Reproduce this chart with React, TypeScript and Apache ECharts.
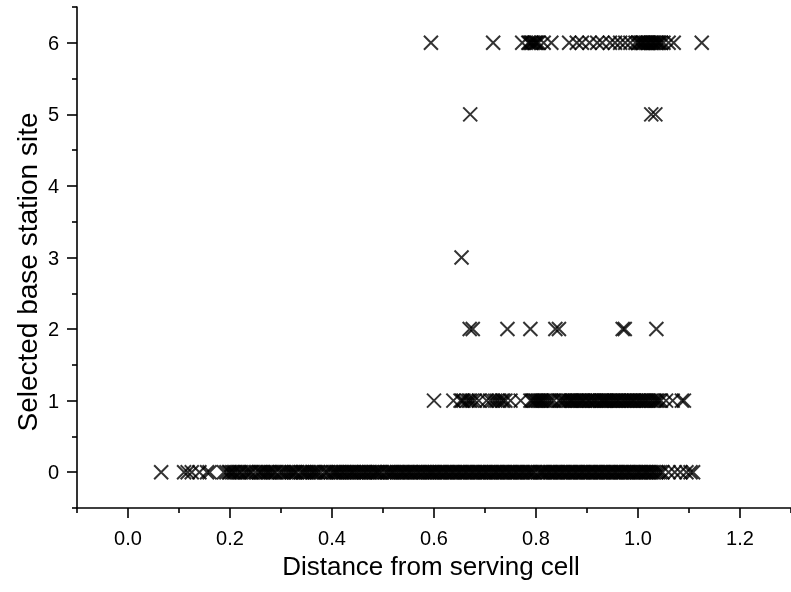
import React, { useEffect, useRef } from "react";
import * as echarts from "echarts";

// Distance from serving cell, grouped by selected base station site
const site0: number[] = [
  0.065, 0.11, 0.117, 0.125, 0.14, 0.155, 0.16, 0.188, 0.193, 0.198, 0.204, 0.21, 0.215, 0.222, 0.228,
  0.236, 0.243, 0.25, 0.256, 0.262, 0.27, 0.276, 0.283, 0.29, 0.297, 0.305, 0.31, 0.318, 0.325, 0.331,
  0.338, 0.345, 0.352, 0.36, 0.366, 0.373, 0.385, 0.392, 0.398, 0.405, 0.411, 0.418, 0.424, 0.431,
  0.438, 0.444, 0.451, 0.458, 0.465, 0.472, 0.478, 0.485, 0.49, 0.497, 0.503, 0.51, 0.517, 0.523, 0.53,
  0.537, 0.543, 0.55, 0.556, 0.563, 0.57, 0.577, 0.583, 0.59, 0.596, 0.602, 0.609, 0.615, 0.622, 0.628,
  0.635, 0.641, 0.648, 0.654, 0.661, 0.667, 0.674, 0.68, 0.687, 0.693, 0.7, 0.706, 0.713, 0.72, 0.726,
  0.733, 0.739, 0.746, 0.752, 0.759, 0.765, 0.772, 0.778, 0.785, 0.791, 0.798, 0.804, 0.811, 0.817,
  0.824, 0.83, 0.837, 0.843, 0.85, 0.856, 0.863, 0.869, 0.876, 0.882, 0.889, 0.895, 0.902, 0.908, 0.915,
  0.921, 0.928, 0.934, 0.941, 0.947, 0.954, 0.96, 0.967, 0.973, 0.98, 0.986, 0.993, 1.0, 1.006, 1.013,
  1.019, 1.026, 1.032, 1.04, 1.048, 1.06, 1.072, 1.083, 1.095, 1.103, 1.108,
  0.2, 0.207, 0.219, 0.232, 0.24, 0.259, 0.266, 0.273, 0.279, 0.287, 0.301, 0.314, 0.321, 0.328, 0.342,
  0.349, 0.356, 0.363, 0.37, 0.378, 0.389, 0.402, 0.408, 0.414, 0.421, 0.428, 0.435, 0.441, 0.448, 0.455,
  0.462, 0.468, 0.475, 0.482, 0.488, 0.494, 0.507, 0.514, 0.52, 0.527, 0.534, 0.54, 0.547, 0.553, 0.56,
  0.567, 0.573, 0.58, 0.587, 0.593, 0.599, 0.606, 0.612, 0.619, 0.625, 0.632, 0.638, 0.645, 0.651, 0.658,
  0.664, 0.671, 0.677, 0.684, 0.69, 0.697, 0.703, 0.71, 0.717, 0.723, 0.73, 0.736, 0.743, 0.749, 0.756,
  0.762, 0.769, 0.775, 0.782, 0.788, 0.795, 0.808, 0.814, 0.821, 0.827, 0.834, 0.84, 0.847, 0.853, 0.86,
  0.866, 0.873, 0.879, 0.886, 0.892, 0.899, 0.905, 0.912, 0.918, 0.925, 0.931, 0.938, 0.944, 0.951,
  0.957, 0.964, 0.97, 0.977, 0.983, 0.99, 0.997, 1.003, 1.01, 1.016, 1.022, 1.029, 1.036, 1.044,
];
const site1: number[] = [
  0.6, 0.638, 0.652, 0.658, 0.664, 0.668, 0.675, 0.68, 0.688, 0.703, 0.715, 0.72, 0.724, 0.728, 0.733,
  0.74, 0.75, 0.77, 0.789, 0.795, 0.8, 0.805, 0.81, 0.815, 0.822, 0.835, 0.845, 0.852, 0.858, 0.865, 0.87,
  0.876, 0.882, 0.888, 0.893, 0.9, 0.905, 0.912, 0.918, 0.925, 0.93, 0.935, 0.94, 0.946, 0.952, 0.958,
  0.963, 0.97, 0.976, 0.982, 0.988, 0.993, 1.0, 1.006, 1.012, 1.018, 1.025, 1.032, 1.038, 1.045, 1.055,
  1.068, 1.086, 1.09,
  0.655, 0.671, 0.71, 0.736, 0.792, 0.798, 0.803, 0.808, 0.812, 0.818, 0.826, 0.83, 0.848, 0.855, 0.862,
  0.868, 0.873, 0.879, 0.885, 0.891, 0.896, 0.903, 0.909, 0.915, 0.921, 0.928, 0.933, 0.938, 0.943,
  0.949, 0.955, 0.961, 0.967, 0.973, 0.979, 0.985, 0.991, 0.997, 1.003, 1.009, 1.015, 1.021, 1.028,
  1.035, 1.041,
];
const site2: number[] = [0.67, 0.676, 0.744, 0.789, 0.838, 0.845, 0.97, 0.974, 1.036];
const site3: number[] = [0.654];
const site5: number[] = [0.671, 1.026, 1.034];
const site6: number[] = [
  0.594, 0.716, 0.773, 0.785, 0.79, 0.795, 0.8, 0.805, 0.815, 0.83, 0.865, 0.88, 0.89, 0.905, 0.92, 0.93,
  0.945, 0.955, 0.965, 0.975, 0.985, 0.995, 1.0, 1.005, 1.01, 1.015, 1.02, 1.025, 1.03, 1.035, 1.04, 1.045,
  1.05, 1.06, 1.07, 1.125,
  0.787, 0.792, 0.798, 0.802, 1.002, 1.008, 1.012, 1.018, 1.022, 1.028, 1.032, 1.038, 1.042,
];

const xMajorTicks = [0, 0.2, 0.4, 0.6, 0.8, 1.0, 1.2];
const xMinorTicks = [-0.1, 0.1, 0.3, 0.5, 0.7, 0.9, 1.1, 1.3];
const yMajorTicks = [0, 1, 2, 3, 4, 5, 6];
const yMinorTicks = [-0.5, 0.5, 1.5, 2.5, 3.5, 4.5, 5.5, 6.5];

const FONT = 'Arial, "Liberation Sans", sans-serif';

export default function App() {
  const ref = useRef<HTMLDivElement>(null);
  useEffect(() => {
    if (!ref.current) return;
    const chart = echarts.init(ref.current, null, { renderer: "svg" });
    const groups: [number, number[]][] = [
      [0, site0],
      [1, site1],
      [2, site2],
      [3, site3],
      [5, site5],
      [6, site6],
    ];
    const data: number[][] = [];
    groups.forEach(([y, xs]) => xs.forEach((x) => data.push([x, y])));
    const axisLine = { show: true, onZero: false, lineStyle: { color: "#000", width: 1.6 } };
    const tickStyle = { color: "#000", width: 1.6 };
    chart.setOption({
      animation: false,
      grid: { left: 77, top: 7, width: 726, height: 501, containLabel: false },
      xAxis: [
        {
          type: "value",
          min: -0.1,
          max: 1.3,
          position: "bottom",
          axisLine,
          splitLine: { show: false },
          axisTick: { show: true, length: 10, customValues: xMajorTicks, lineStyle: tickStyle },
          axisLabel: {
            customValues: xMajorTicks,
            formatter: (v: number) => v.toFixed(1),
            color: "#000",
            fontSize: 20,
            fontFamily: FONT,
            margin: 20,
          },
        },
        {
          type: "value",
          min: -0.1,
          max: 1.3,
          position: "bottom",
          axisLine: { show: false, onZero: false },
          splitLine: { show: false },
          axisTick: { show: true, length: 5, customValues: xMinorTicks, lineStyle: tickStyle },
          axisLabel: { show: false },
        },
      ],
      yAxis: [
        {
          type: "value",
          min: -0.5,
          max: 6.5,
          position: "left",
          axisLine,
          splitLine: { show: false },
          axisTick: { show: true, length: 10, customValues: yMajorTicks, lineStyle: tickStyle },
          axisLabel: {
            customValues: yMajorTicks,
            formatter: (v: number) => String(v),
            color: "#000",
            fontSize: 20,
            fontFamily: FONT,
            margin: 18,
          },
        },
        {
          type: "value",
          min: -0.5,
          max: 6.5,
          position: "left",
          axisLine: { show: false, onZero: false },
          splitLine: { show: false },
          axisTick: { show: true, length: 5, customValues: yMinorTicks, lineStyle: tickStyle },
          axisLabel: { show: false },
        },
      ],
      graphic: [
        {
          type: "text",
          x: 431,
          y: 566,
          style: {
            text: "Distance from serving cell",
            fill: "#000",
            font: `26px ${FONT}`,
            textAlign: "center",
            textVerticalAlign: "middle",
          },
        },
        {
          type: "text",
          x: 27,
          y: 272,
          rotation: Math.PI / 2,
          style: {
            text: "Selected base station site",
            fill: "#000",
            font: `28px ${FONT}`,
            textAlign: "center",
            textVerticalAlign: "middle",
          },
        },
      ],
      series: [
        {
          type: "scatter",
          xAxisIndex: 0,
          yAxisIndex: 0,
          data,
          symbol: "path://M0,0L10,10M10,0L0,10",
          symbolSize: 14,
          itemStyle: { color: "#000", borderColor: "#000", borderWidth: 2 },
          silent: true,
        },
      ],
    });
    return () => chart.dispose();
  }, []);
  return <div ref={ref} style={{ position: "fixed", left: 0, top: 0, width: 791, height: 592 }} />;
}
